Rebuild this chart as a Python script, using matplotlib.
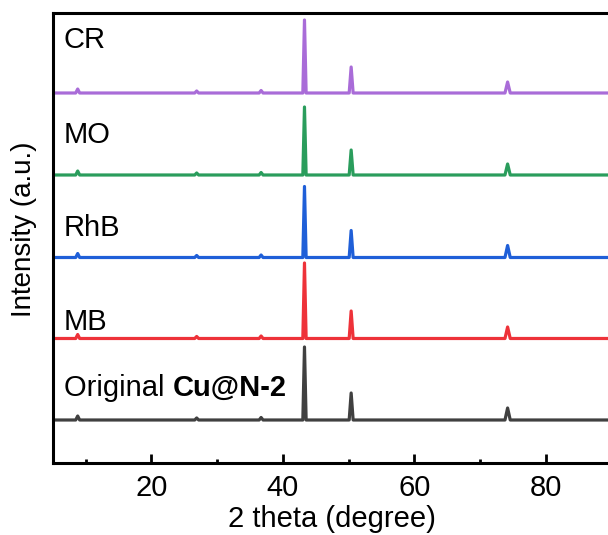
import matplotlib
matplotlib.use("Agg")
import matplotlib.pyplot as plt
import matplotlib.transforms as mtransforms

plt.rcParams['font.family'] = ['Liberation Sans', 'DejaVu Sans']

# 2 theta vertices of the traced patterns (shared by all samples)
two_theta = [5, 8.5, 8.8, 9.1, 26.6, 26.9, 27.2, 36.4, 36.7, 37.0,
             43.05, 43.3, 43.55, 50.1, 50.4, 50.7, 73.8, 74.2, 74.6, 90]

# intensities above each trace's own baseline (a.u.)
int_original = [0, 0, 4, 0, 0, 2, 0, 0, 2.5, 0, 0, 73, 0, 0, 27, 0, 0, 12, 0, 0]
int_mb = [0, 0, 4, 0, 0, 2, 0, 0, 2.5, 0, 0, 75.5, 0, 0, 27.5, 0, 0, 11.5, 0, 0]
int_rhb = [0, 0, 4, 0, 0, 2, 0, 0, 2.5, 0, 0, 71, 0, 0, 27, 0, 0, 12, 0, 0]
int_mo = [0, 0, 4, 0, 0, 2, 0, 0, 2.5, 0, 0, 68, 0, 0, 25, 0, 0, 11, 0, 0]
int_cr = [0, 0, 4, 0, 0, 2, 0, 0, 2.5, 0, 0, 73, 0, 0, 26, 0, 0, 11, 0, 0]

names = ['Original', 'MB', 'RhB', 'MO', 'CR']
offsets = [43, 124.5, 205.5, 288, 370]
colors = ['#404040', '#ee3239', '#1f5fd8', '#2a9d5c', '#a96cd8']
label_y = [67, 133, 227, 320, 415]

series = [int_original, int_mb, int_rhb, int_mo, int_cr]

fig = plt.figure(figsize=(6.08, 5.35), dpi=100)
ax = fig.add_axes([0.0867, 0.1346, 0.919, 0.8411])

for vals, off, col in zip(series, offsets, colors):
    ax.plot(two_theta, [v + off for v in vals], color=col, lw=2.3,
            solid_joinstyle='round')

ax.set_xlim(5, 90)
ax.set_ylim(0, 450)
ax.set_yticks([])
ax.set_xticks([20, 40, 60, 80])
ax.set_xticks([10, 30, 50, 70, 90], minor=True)
ax.tick_params(axis='x', which='major', direction='in', length=6.5, width=2,
               labelsize=21, pad=8)
ax.tick_params(axis='x', which='minor', direction='in', length=3, width=2)
for s in ax.spines.values():
    s.set_linewidth(2.2)

ax.set_xlabel('2 theta (degree)', fontsize=21, labelpad=2)
ax.set_ylabel('Intensity (a.u.)', fontsize=20)
ax.yaxis.set_label_coords(-0.028, 0.519)

for name, ly in zip(names[1:], label_y[1:]):
    ax.text(6.7, ly, name, fontsize=21, va='baseline', ha='left')

t1 = ax.text(6.7, label_y[0], 'Original ', fontsize=21, va='baseline', ha='left')
fig.canvas.draw()
w = t1.get_window_extent(renderer=fig.canvas.get_renderer()).width
tr = mtransforms.offset_copy(ax.transData, fig=fig, x=w, y=0, units='dots')
ax.text(6.7, label_y[0], 'Cu@N-2', fontsize=21, fontweight='bold',
        va='baseline', ha='left', transform=tr)

fig.savefig('out.png', dpi=100)
